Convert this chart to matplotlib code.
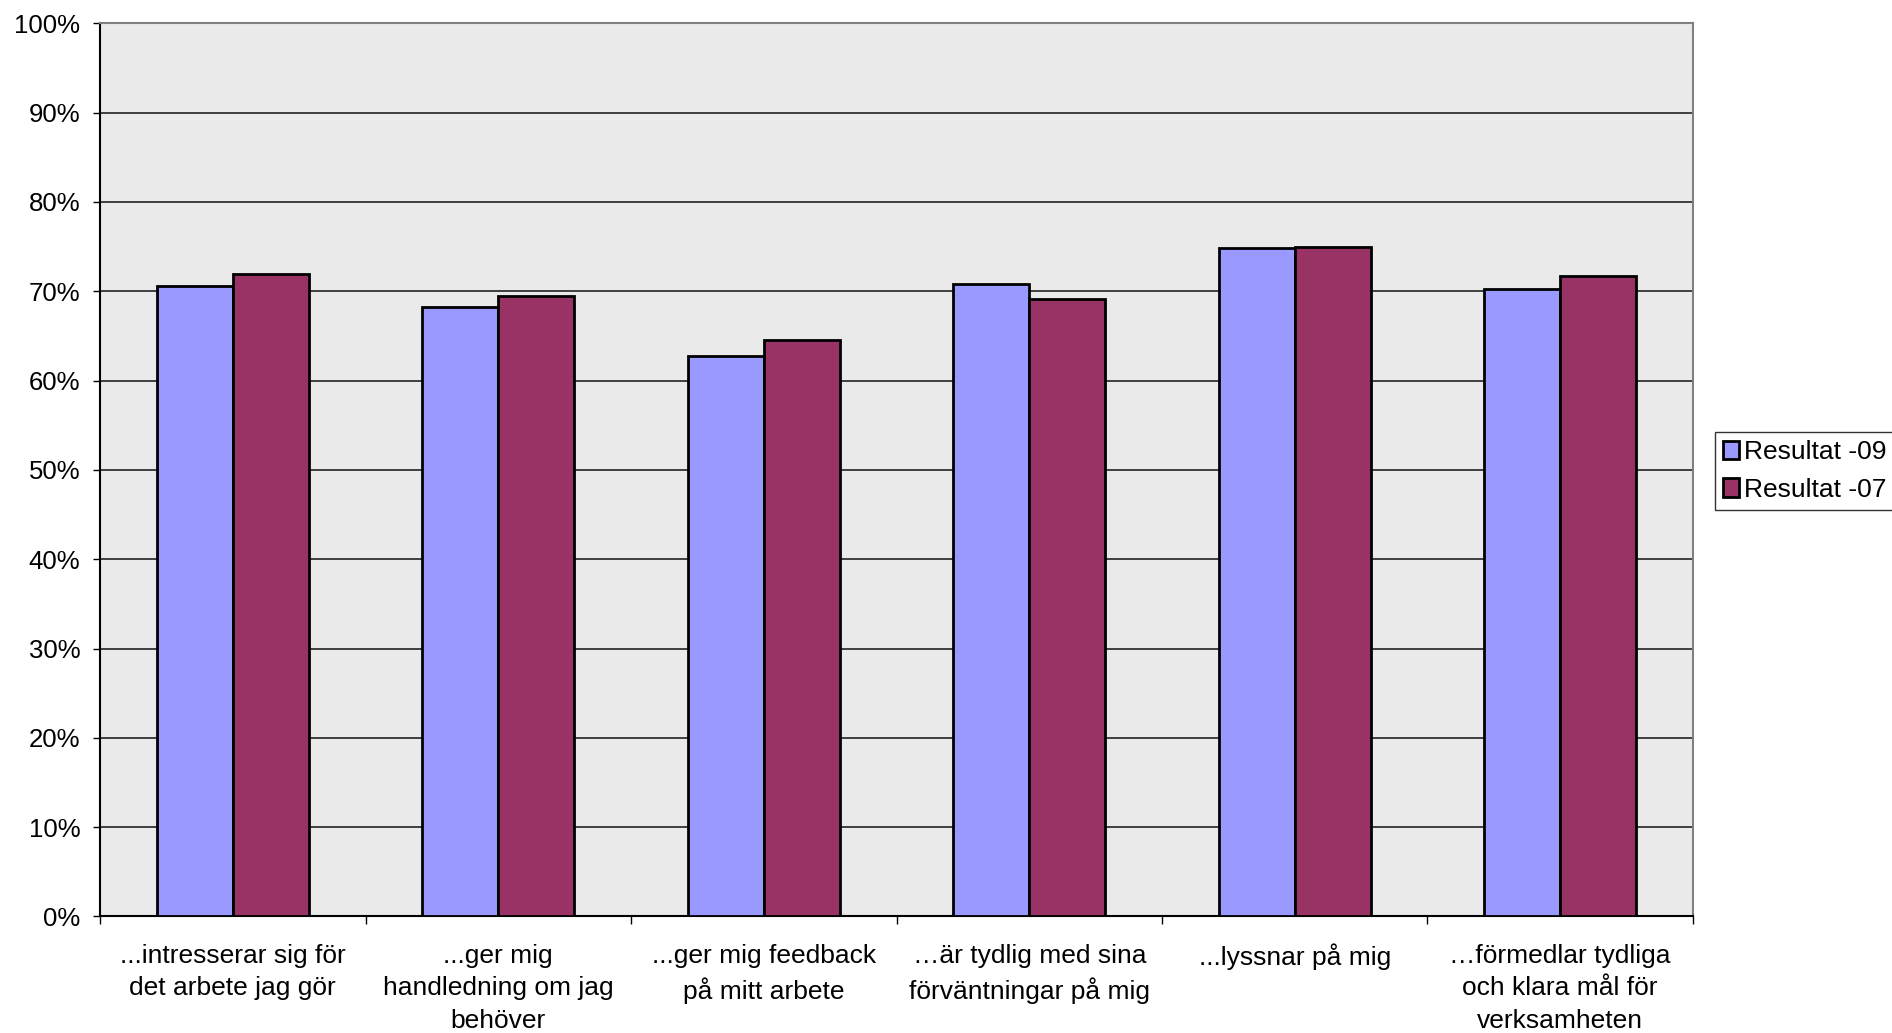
import matplotlib as mpl
mpl.use('Agg')
import matplotlib.pyplot as plt
from matplotlib.patches import Patch
import numpy as np

plt.rcParams['font.family'] = ['Liberation Sans', 'DejaVu Sans']

categories = ['...intresserar sig för\ndet arbete jag gör',
              '...ger mig\nhandledning om jag\nbehöver',
              '...ger mig feedback\npå mitt arbete',
              '…är tydlig med sina\nförväntningar på mig',
              '...lyssnar på mig',
              '…förmedlar tydliga\noch klara mål för\nverksamheten']
res_09 = [70.6, 68.2, 62.8, 70.8, 74.8, 70.3]
res_07 = [71.9, 69.5, 64.6, 69.1, 75.0, 71.7]
series_names = ['Resultat -09', 'Resultat -07']
colors = ['#9999FF', '#993366']

fig = plt.figure(figsize=(18.92, 10.33), dpi=100)
ax = fig.add_axes([0.0529, 0.1128, 0.8419, 0.8646])
ax.set_facecolor('#EAEAEA')

x = np.arange(len(categories))
w = 1 / 3.5
ax.bar(x - w / 2, res_09, w, color=colors[0], edgecolor='black', linewidth=2, zorder=3)
ax.bar(x + w / 2, res_07, w, color=colors[1], edgecolor='black', linewidth=2, zorder=3)

# y axis
ax.set_ylim(0, 100)
ax.set_yticks(np.arange(0, 101, 10))
ax.set_yticklabels([f'{v}%' for v in range(0, 101, 10)])
ax.yaxis.grid(True, color='#222222', linewidth=1.2, zorder=1)
ax.tick_params(axis='y', direction='out', length=5.3, width=1, pad=9, labelsize=18.5)

# x axis: labels at centers, ticks at boundaries
ax.set_xlim(-0.5, len(categories) - 0.5)
ax.set_xticks(x)
ax.set_xticklabels(categories, linespacing=1.47)
ax.set_xticks(np.arange(-0.5, len(categories)), minor=True)
ax.tick_params(axis='x', which='major', length=0, pad=19.5, labelsize=19)
ax.tick_params(axis='x', which='minor', direction='out', length=6, width=1)

for s in ['left', 'bottom']:
    ax.spines[s].set_color('black')
    ax.spines[s].set_linewidth(1.5)
for s in ['top', 'right']:
    ax.spines[s].set_color('#808080')
    ax.spines[s].set_linewidth(1.5)

handles = [Patch(facecolor=c, edgecolor='black', linewidth=2) for c in colors]
leg = fig.legend(handles, series_names, loc='upper left', bbox_to_anchor=(0.9064, 0.5818),
                 fontsize=19, frameon=True, fancybox=False, handlelength=0.6,
                 handleheight=0.7, handletextpad=0.2, borderpad=0.32, labelspacing=0.5,
                 borderaxespad=0)
leg.get_frame().set_edgecolor('black')
leg.get_frame().set_linewidth(1)

fig.savefig('out.png', dpi=100)
